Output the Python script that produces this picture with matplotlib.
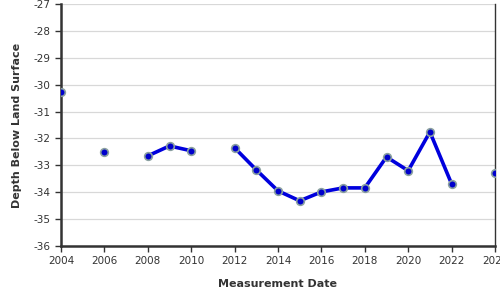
import matplotlib
matplotlib.use("Agg")
import matplotlib.pyplot as plt
import numpy as np

years = [2004, 2006, 2008, 2009, 2010, 2012, 2013, 2014, 2015, 2016,
         2017, 2018, 2019, 2020, 2021, 2022, 2024]
depths = [-30.27, -32.5, -32.65, -32.28, -32.46, -32.35, -33.17, -33.95,
          -34.32, -33.99, -33.84, -33.84, -32.69, -33.2, -31.76, -33.69, -33.28]
x_ticks = list(range(2004, 2025, 2))
y_ticks = list(range(-36, -26))

plt.rcParams["axes.unicode_minus"] = False
plt.rcParams["font.family"] = "DejaVu Sans"

# break the line wherever a year is missing
lx, ly = [], []
for i, (yr, d) in enumerate(zip(years, depths)):
    if i > 0 and yr - years[i - 1] > 1:
        lx.append(np.nan)
        ly.append(np.nan)
    lx.append(yr)
    ly.append(d)

fig = plt.figure(figsize=(5, 3), dpi=100)
ax = fig.add_axes([0.122, 0.18, 0.868, 0.807])

ax.plot(lx, ly, color="#0000dd", linewidth=2.6, solid_capstyle="round", zorder=3)
ax.plot(years, depths, linestyle="none", marker="o", markersize=5.5,
        markerfacecolor="#0000cc", markeredgecolor="#8aa0a0",
        markeredgewidth=1.2, zorder=4)

ax.set_xlim(2004, 2024)
ax.set_ylim(-36, -27)
ax.set_xticks(x_ticks)
ax.set_yticks(y_ticks)
ax.tick_params(labelsize=7.5, colors="#333333", length=4, width=1)
ax.grid(axis="y", color="#d8d8d8", linewidth=0.9)
ax.set_axisbelow(True)

for s in ("left", "bottom"):
    ax.spines[s].set_linewidth(1.8)
    ax.spines[s].set_color("#333333")
ax.spines["top"].set_visible(False)
ax.spines["right"].set_color("#333333")
ax.spines["right"].set_linewidth(1.0)

ax.set_xlabel("Measurement Date", fontsize=8, fontweight="bold",
              color="#333333", labelpad=9)
ax.set_ylabel("Depth Below Land Surface", fontsize=8, fontweight="bold",
              color="#333333", labelpad=8)

fig.savefig("out.png", dpi=100)
